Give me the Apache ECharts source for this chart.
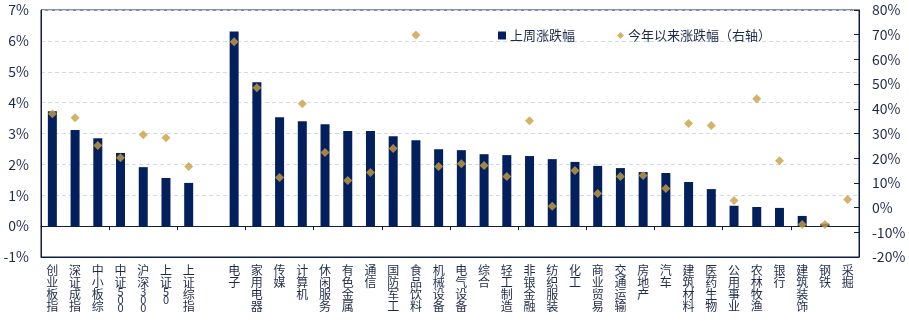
<!DOCTYPE html>
<html>
<head>
<meta charset="utf-8">
<script src="https://cdn.jsdelivr.net/npm/echarts@6/dist/echarts.min.js"></script>
<style>
html,body{margin:0;padding:0;background:#fff;}
#chart{width:909px;height:322px;}
</style>
</head>
<body>
<div id="chart"></div>
<script>
var categories = ['创业板指','深证成指','中小板综','中证500','沪深300','上证50','上证综指','','电子','家用电器','传媒','计算机','休闲服务','有色金属','通信','国防军工','食品饮料','机械设备','电气设备','综合','轻工制造','非银金融','纺织服装','化工','商业贸易','交通运输','房地产','汽车','建筑材料','医药生物','公用事业','农林牧渔','银行','建筑装饰','钢铁','采掘'];
var weeklyChange = [3.72,3.11,2.85,2.37,1.91,1.56,1.40,null,6.30,4.66,3.53,3.40,3.30,3.08,3.08,2.91,2.78,2.49,2.46,2.33,2.30,2.27,2.17,2.08,1.95,1.88,1.75,1.72,1.43,1.20,0.66,0.62,0.59,0.33,0.08,0.00];
var ytdChange = [38.0,36.4,25.1,20.2,29.5,28.3,16.6,null,67.1,48.5,12.2,42.0,22.3,11.0,14.2,23.9,69.9,16.6,17.8,17.0,12.6,35.2,0.5,15.0,5.7,12.6,13.0,7.7,34.0,33.2,2.9,44.1,19.0,-6.8,-6.8,3.3];
var seriesNames = ['上周涨跌幅','今年以来涨跌幅（右轴）'];

var dark = '#0f1d45';
var textColor = '#1e2a4a';
var chart = echarts.init(document.getElementById('chart'));

function vertLabel(s){
  if(!s) return '';
  var parts = [];
  for (var i=0;i<s.length;i++){
    var ch = s[i];
    parts.push(/[0-9]/.test(ch) ? '{d|'+ch+'}' : '{c|'+ch+'}');
  }
  return parts.join('\n');
}

chart.setOption({
  animation:false,
  textStyle:{fontFamily:'"Noto Sans CJK SC", "Noto Sans", sans-serif'},
  grid:{left:41,right:50,top:10,bottom:65,show:true,borderColor:dark,borderWidth:1},
  legend:[{
    data:[{name:seriesNames[0],icon:'rect'}],
    left:493, top:24, itemWidth:8, itemHeight:8, itemGap:6,
    textStyle:{fontSize:13,color:textColor,padding:[0,0,0,-1]}
  },{
    data:[{name:seriesNames[1],icon:'diamond'}],
    left:612, top:24, itemWidth:7, itemHeight:7,
    textStyle:{fontSize:13,color:textColor,padding:[0,0,0,-1]}
  }],
  xAxis:[{
    type:'category', data:categories, position:'bottom',
    axisLine:{onZero:false, lineStyle:{color:dark}},
    axisTick:{show:false},
    axisLabel:{interval:0, margin:7, color:textColor, formatter:vertLabel,
      rich:{c:{fontSize:12,lineHeight:12,color:textColor}, d:{fontSize:11,lineHeight:8,color:textColor}}}
  },{
    type:'category', data:categories, position:'bottom',
    axisLine:{onZero:true, lineStyle:{color:dark}},
    axisTick:{show:true, inside:false, length:4, lineStyle:{color:dark}},
    axisLabel:{show:false}
  }],
  yAxis:[{
    type:'value', min:-1, max:7, interval:1,
    axisLine:{show:true, lineStyle:{color:dark}},
    axisTick:{show:false},
    axisLabel:{formatter:'{value}%', fontSize:14, color:textColor, margin:12},
    splitLine:{show:true, lineStyle:{color:'#cfdaea', type:[4,3]}}
  },{
    type:'value', min:-20, max:80, interval:10, position:'right',
    axisLine:{show:true, lineStyle:{color:dark}},
    axisTick:{show:true, inside:true, length:5, lineStyle:{color:dark}},
    axisLabel:{formatter:'{value}%', fontSize:14, color:textColor, margin:13},
    splitLine:{show:false}
  }],
  series:[{
    name:seriesNames[0], type:'bar', data:weeklyChange, xAxisIndex:0, yAxisIndex:0,
    barWidth:9, itemStyle:{color:'#03205d'}
  },{
    name:seriesNames[1], type:'scatter', data:ytdChange, xAxisIndex:0, yAxisIndex:1,
    symbol:'diamond', symbolSize:9, itemStyle:{color:'#c9a044'}
  }]
});
</script>
</body>
</html>
